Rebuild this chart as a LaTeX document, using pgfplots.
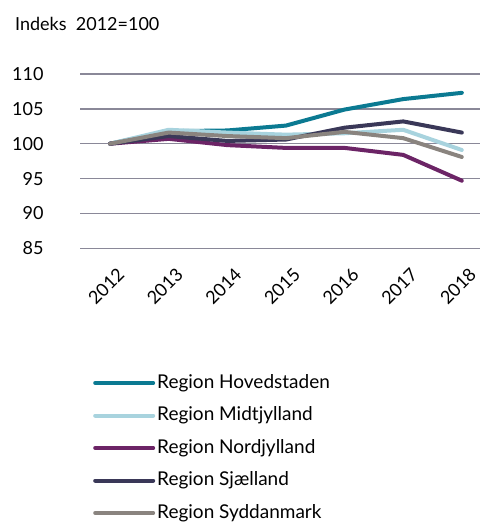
\documentclass[border=0pt]{standalone}
\usepackage{pgfplots}
\pgfplotsset{compat=1.18}
\usepackage{fontspec}
\setmainfont{Lato}
\definecolor{hov}{HTML}{0B7A92}
\definecolor{mid}{HTML}{A8D3DE}
\definecolor{nor}{HTML}{6C2466}
\definecolor{sja}{HTML}{3A3858}
\definecolor{syd}{HTML}{8A847F}
\definecolor{gridc}{HTML}{8A8898}
\begin{document}
\begin{tikzpicture}[x=1pt,y=1pt]
\begin{axis}[
  scale only axis,
  width=400pt, height=174.3pt,
  xmin=2011.488, xmax=2018.31,
  ymin=85, ymax=110,
  axis line style={draw=none},
  ytick={85,90,...,110},
  xtick={2012,...,2018},
  xticklabels={2012,2013,2014,2015,2016,2017,2018},
  tick style={draw=none},
  ymajorgrids,
  grid style={gridc, line width=1.3pt},
  font=\fontsize{18}{20}\selectfont,
  /pgf/number format/assume math mode=true,
  yticklabel style={anchor=east, xshift=-33pt, text width=32pt, align=right},
  xticklabel style={rotate=45, anchor=east, yshift=-24pt, xshift=-5pt},
  clip=false,
  legend style={at={(0.0325,-0.72)}, anchor=north west, draw=none, fill=none,
    row sep=14.5pt, inner sep=0pt,
    nodes={inner sep=0pt, text height=14pt, text depth=4pt},
    font=\fontsize{19}{21}\selectfont},
  legend cell align=left,
  legend image code/.code={\draw[#1, line width=4pt] (0pt,0pt) -- (58pt,0pt);},
  every axis plot/.append style={line width=4pt, line cap=round, line join=round},
]
\addplot[hov] coordinates {(2012,100) (2013,101.8) (2014,101.9) (2015,102.6) (2016,104.9) (2017,106.4) (2018,107.3)};
\addlegendentry{\hspace{2pt}Region Hovedstaden}
\addplot[mid] coordinates {(2012,100) (2013,102.0) (2014,101.6) (2015,101.3) (2016,101.5) (2017,102.0) (2018,99.1)};
\addlegendentry{\hspace{2pt}Region Midtjylland}
\addplot[nor] coordinates {(2012,100) (2013,100.7) (2014,99.8) (2015,99.4) (2016,99.4) (2017,98.4) (2018,94.7)};
\addlegendentry{\hspace{2pt}Region Nordjylland}
\addplot[sja] coordinates {(2012,100) (2013,101.1) (2014,100.4) (2015,100.6) (2016,102.3) (2017,103.2) (2018,101.6)};
\addlegendentry{\hspace{2pt}Region Sjælland}
\addplot[syd] coordinates {(2012,100) (2013,101.6) (2014,101.1) (2015,100.8) (2016,101.7) (2017,100.8) (2018,98.1)};
\addlegendentry{\hspace{2pt}Region Syddanmark}
\end{axis}
\node[anchor=west, inner sep=0pt, font=\fontsize{18}{20}\selectfont] at (-65pt,224.3pt) {Indeks\ \ 2012=100};
\useasboundingbox (-80pt,-275.7pt) rectangle (400pt,248.3pt);
\end{tikzpicture}
\end{document}
